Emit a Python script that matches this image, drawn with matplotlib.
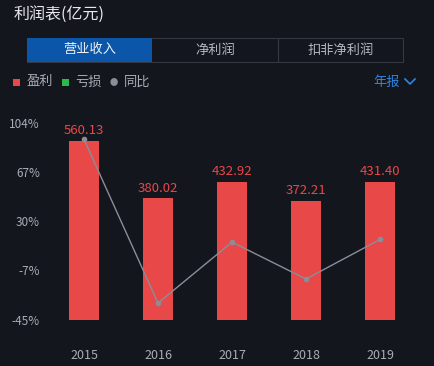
import matplotlib.pyplot as plt
from matplotlib.patches import Rectangle
import numpy as np

plt.rcParams['font.family'] = ['Noto Sans CJK SC', 'DejaVu Sans']

years = ['2015', '2016', '2017', '2018', '2019']
profit = [560.13, 380.02, 432.92, 372.21, 431.40]
yoy = [91.7, -32.2, 13.9, -14.0, 15.9]
pct_ticks = [104, 67, 30, -7, -45]
tabs = ['营业收入', '净利润', '扣非净利润']

W, H = 434, 366
bg = '#14161e'
red = '#e84848'
grey_line = '#8a8e98'
text_grey = '#a9adb6'


def px(x, y):
    return x / W, 1 - y / H


fig = plt.figure(figsize=(W / 100, H / 100), dpi=100, facecolor=bg)

# axes: percent (line) and bars share the same box
ax = fig.add_axes([47 / W, (H - 320) / H, 370 / W, 197 / H])
ax2 = ax.twinx()
ax.set_zorder(2)
ax2.set_zorder(1)
ax.patch.set_visible(False)

x = np.arange(len(years))
ax2.bar(x, profit, width=0.405, color=red, zorder=1)
ax2.set_ylim(0, max(profit) * 1.1)
ax2.axis('off')
for xi, v in zip(x, profit):
    ax2.text(xi, v + 12, f'{v:.2f}', ha='center', va='bottom', color=red, fontsize=9.5)

ax.plot(x, yoy, color=grey_line, lw=1, marker='o', ms=3, zorder=3)
ax.set_ylim(-45, 104)
ax.set_xlim(-0.5, len(years) - 0.5)
ax.set_yticks(pct_ticks)
ax.set_yticklabels([f'{t}%' for t in pct_ticks])
ax.set_xticks(x)
ax.set_xticklabels(years)
ax.tick_params(axis='y', length=0, colors=text_grey, labelsize=8.5, pad=5)
ax.tick_params(axis='x', length=0, colors=text_grey, labelsize=9, pad=21)
for s in ax.spines.values():
    s.set_visible(False)

# title
fig.text(*px(14, 14), '利润表(亿元)', color='#e8e9ec', fontsize=11.5, va='center', ha='left')

# tab bar
fig.add_artist(Rectangle(px(27, 62), 376 / W, 24 / H, transform=fig.transFigure,
                         facecolor='none', edgecolor='#353842', lw=0.8))
fig.add_artist(Rectangle(px(27, 62), 125 / W, 24 / H, transform=fig.transFigure,
                         facecolor='#0b56a8', edgecolor='none'))
fig.add_artist(plt.Line2D([278 / W, 278 / W], [1 - 38 / H, 1 - 62 / H],
                          transform=fig.transFigure, color='#353842', lw=0.8))
for i, t in enumerate(tabs):
    cx = 27 + 125.3 * i + 62.6
    fig.text(*px(cx, 50), t, color='#f0f2f5' if i == 0 else '#b4b8c0',
             fontsize=9.5, ha='center', va='center')

# legend
fig.add_artist(Rectangle(px(13, 86), 7 / W, 7 / H, transform=fig.transFigure,
                         facecolor=red, edgecolor='none'))
fig.text(*px(27, 82), '盈利', color=text_grey, fontsize=9.5, va='center')
fig.add_artist(Rectangle(px(62, 86), 7 / W, 7 / H, transform=fig.transFigure,
                         facecolor='#2db84d', edgecolor='none'))
fig.text(*px(75, 82), '亏损', color=text_grey, fontsize=9.5, va='center')
fig.text(*px(114, 82), '●', color='#8a8e98', fontsize=6, va='center', ha='center')
fig.text(*px(124, 82), '同比', color=text_grey, fontsize=9.5, va='center')
fig.text(*px(373, 82), '年报', color='#2f86e0', fontsize=9.5, va='center')
fig.add_artist(plt.Line2D([405 / W, 410 / W, 415 / W], [1 - 79 / H, 1 - 84 / H, 1 - 79 / H],
                          transform=fig.transFigure, color='#2f86e0', lw=1.2))

fig.savefig('out.png', dpi=100, facecolor=bg)
